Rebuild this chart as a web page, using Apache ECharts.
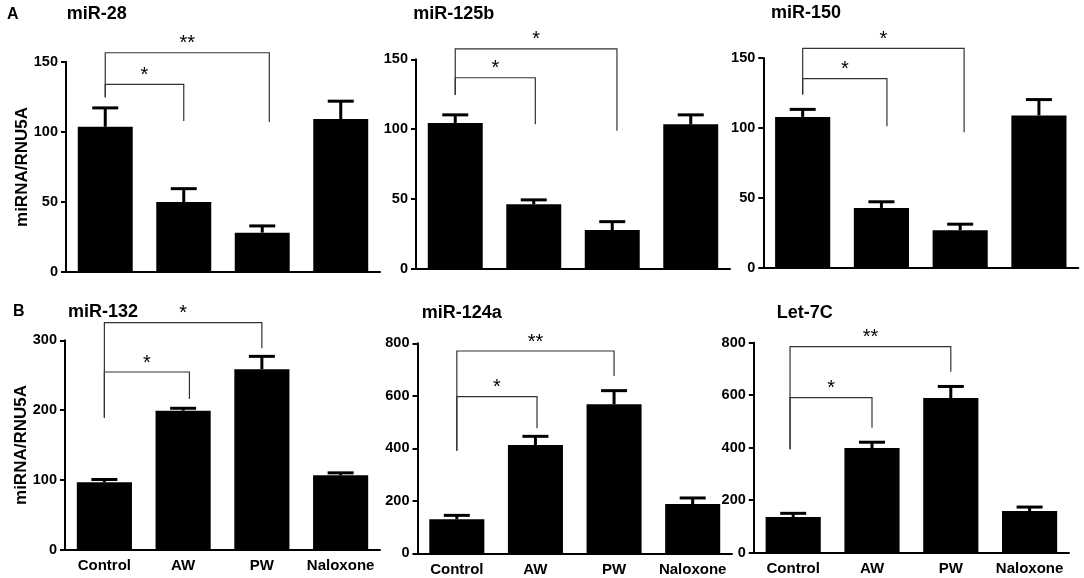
<!DOCTYPE html>
<html>
<head>
<meta charset="utf-8">
<title>miRNA expression</title>
<script src="https://cdn.jsdelivr.net/npm/echarts@6/dist/echarts.min.js"></script>
<style>
  html, body { margin: 0; padding: 0; background: #fff; }
  #chart { width: 1084px; height: 578px; }
</style>
</head>
<body>
<div id="chart"></div>
<script>
// 分组
const categories = ['Control', 'AW', 'PW', 'Naloxone'];

// 各 miRNA 的均值与 SEM
const mir28Mean = [103.5, 49.8, 27.9, 109];
const mir28Sem = [13.5, 9.5, 4.8, 12.8];
const mir125bMean = [104.4, 46.1, 27.7, 103.4];
const mir125bSem = [5.8, 3.2, 6.0, 6.8];
const mir150Mean = [107.9, 42.9, 26.9, 109];
const mir150Sem = [5.4, 4.4, 4.4, 11.3];
const mir132Mean = [96.6, 199.1, 258.5, 106.6];
const mir132Sem = [4.0, 3.5, 18.5, 3.5];
const mir124aMean = [129.5, 412.6, 567.6, 187.8];
const mir124aSem = [15, 33, 52, 23];
const let7cMean = [136, 398.9, 589.3, 158.9];
const let7cSem = [14, 22, 44, 15];

// 显著性标记: [起点位置, 终点位置, 横线高度, 左端下沿, 右端下沿, 星号]
const mir28Brackets = [[0, 2.09, 156.4, 124.6, 106.9, '**'], [0, 1, 133.8, 124.6, 107.6, '*']];
const mir125bBrackets = [[0, 2.06, 157.4, 124.4, 98.9, '*'], [0, 1.02, 136.8, 124.4, 103.4, '*']];
const mir150Brackets = [[0, 2.05, 156.9, 124, 96.9, '*'], [0, 1.07, 135.2, 124, 101.2, '*']];
const mir132Brackets = [[0, 2.0, 325.2, 189.1, 288.5, '*'], [0, 1.08, 254.6, 189.1, 215.9, '*']];
const mir124aBrackets = [[0, 2.0, 770.7, 391, 675.4, '**'], [0, 1.02, 596.6, 391, 476, '*']];
const let7cBrackets = [[-0.04, 2.0, 784.8, 393.9, 689.5, '**'], [-0.04, 1.0, 590.5, 393.9, 476.2, '*']];

// 坐标轴范围
const panelTitles = ['miR-28', 'miR-125b', 'miR-150', 'miR-132', 'miR-124a', 'Let-7C'];
const yMaxes = [150, 150, 150, 300, 800, 800];
const yIntervals = [50, 50, 50, 100, 200, 200];

const FONT = '"Liberation Sans", Arial, sans-serif';

const panels = [
    { mean: mir28Mean, sem: mir28Sem, brackets: mir28Brackets },
    { mean: mir125bMean, sem: mir125bSem, brackets: mir125bBrackets },
    { mean: mir150Mean, sem: mir150Sem, brackets: mir150Brackets },
    { mean: mir132Mean, sem: mir132Sem, brackets: mir132Brackets },
    { mean: mir124aMean, sem: mir124aSem, brackets: mir124aBrackets },
    { mean: let7cMean, sem: let7cSem, brackets: let7cBrackets }
];

// 各子图的绘图区域
const grids = [
    { left: 66, top: 61.7, width: 314, height: 210 },
    { left: 416, top: 59.3, width: 314, height: 209.4 },
    { left: 763.3, top: 58, width: 315, height: 210 },
    { left: 65, top: 340.3, width: 315, height: 209.4 },
    { left: 417.5, top: 343.3, width: 314.5, height: 210 },
    { left: 753.8, top: 342.7, width: 315.2, height: 210 }
];

const xAxes = [];
const yAxes = [];
const series = [];

panels.forEach((p, i) => {
    xAxes.push({
        type: 'category',
        gridIndex: i,
        data: categories,
        axisLine: { lineStyle: { color: '#000', width: 2 } },
        axisTick: { show: false },
        axisLabel: {
            show: i >= 3,
            interval: 0,
            margin: 9,
            color: '#000',
            fontWeight: 'bold',
            fontSize: 15,
            fontFamily: FONT
        }
    });
    yAxes.push({
        type: 'value',
        gridIndex: i,
        min: 0,
        max: yMaxes[i],
        interval: yIntervals[i],
        axisLine: { show: true, lineStyle: { color: '#000', width: 2 } },
        axisTick: { show: true, length: 5, lineStyle: { color: '#000', width: 2 } },
        axisLabel: {
            margin: 8,
            color: '#000',
            fontWeight: 'bold',
            fontSize: 14.5,
            fontFamily: FONT
        },
        splitLine: { show: false }
    });

    series.push({
        type: 'bar',
        xAxisIndex: i,
        yAxisIndex: i,
        data: p.mean,
        barWidth: '70%',
        itemStyle: { color: '#000' },
        silent: true,
        animation: false
    });

    // 误差线（仅向上）
    series.push({
        type: 'custom',
        xAxisIndex: i,
        yAxisIndex: i,
        data: p.mean.map((m, k) => [k, m, m + p.sem[k]]),
        clip: false,
        silent: true,
        animation: false,
        renderItem: function (params, api) {
            const base = api.coord([api.value(0), api.value(1)]);
            const top = api.coord([api.value(0), api.value(2)]);
            const half = 13;
            return {
                type: 'group',
                children: [
                    { type: 'line', shape: { x1: base[0], y1: base[1], x2: top[0], y2: top[1] }, style: { stroke: '#000', lineWidth: 3 } },
                    { type: 'line', shape: { x1: top[0] - half, y1: top[1], x2: top[0] + half, y2: top[1] }, style: { stroke: '#000', lineWidth: 3 } }
                ]
            };
        }
    });

    // 显著性括号
    series.push({
        type: 'custom',
        xAxisIndex: i,
        yAxisIndex: i,
        data: p.brackets.map(b => [Math.round(b[0]), b[2]]),
        clip: false,
        silent: true,
        animation: false,
        z: 5,
        renderItem: function (params, api) {
            const b = p.brackets[params.dataIndex];
            const band = api.size([1, 0])[0];
            const xAt = pos => {
                const r = Math.round(pos);
                return api.coord([r, 0])[0] + (pos - r) * band;
            };
            const yAt = v => api.coord([0, v])[1];
            const x1 = xAt(b[0]);
            const x2 = xAt(b[1]);
            const y = yAt(b[2]);
            return {
                type: 'group',
                children: [
                    {
                        type: 'polyline',
                        shape: { points: [[x1, yAt(b[3])], [x1, y], [x2, y], [x2, yAt(b[4])]] },
                        style: { stroke: '#333', lineWidth: 1.2, fill: null }
                    },
                    {
                        type: 'text',
                        x: (x1 + x2) / 2,
                        y: y - 9,
                        style: {
                            text: b[5],
                            fill: '#000',
                            font: '20px ' + FONT,
                            textAlign: 'center',
                            textVerticalAlign: 'middle'
                        }
                    }
                ]
            };
        }
    });
});

// 标题与面板字母
const titlePos = [[66.7, 14], [413.3, 14], [771, 13.3], [68, 311.7], [421.7, 312.7], [776.7, 312.7]];
const graphics = panelTitles.map((t, i) => ({
    type: 'text',
    x: titlePos[i][0],
    y: titlePos[i][1],
    style: { text: t, fill: '#000', font: 'bold 18px ' + FONT, textVerticalAlign: 'middle' }
}));
graphics.push(
    { type: 'text', x: 7, y: 14.5, style: { text: 'A', fill: '#000', font: 'bold 16px ' + FONT, textVerticalAlign: 'middle' } },
    { type: 'text', x: 13, y: 312, style: { text: 'B', fill: '#000', font: 'bold 16px ' + FONT, textVerticalAlign: 'middle' } },
    { type: 'text', x: 22, y: 167, rotation: Math.PI / 2, style: { text: 'miRNA/RNU5A', fill: '#000', font: 'bold 17px ' + FONT, textAlign: 'center', textVerticalAlign: 'middle' } },
    { type: 'text', x: 21.5, y: 445, rotation: Math.PI / 2, style: { text: 'miRNA/RNU5A', fill: '#000', font: 'bold 17px ' + FONT, textAlign: 'center', textVerticalAlign: 'middle' } }
);

const chart = echarts.init(document.getElementById('chart'));
chart.setOption({
    animation: false,
    grid: grids,
    xAxis: xAxes,
    yAxis: yAxes,
    series: series,
    graphic: graphics
});
</script>
</body>
</html>
